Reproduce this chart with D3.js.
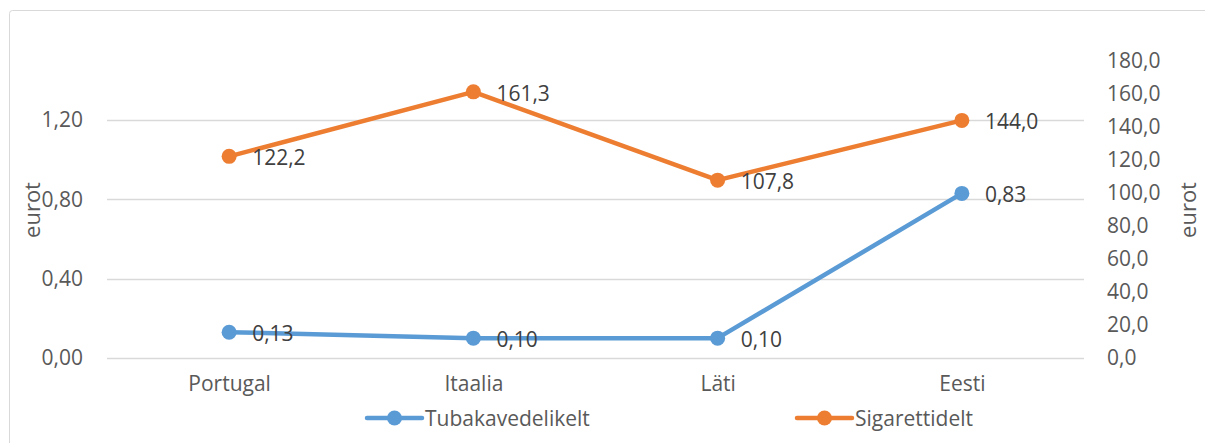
<!DOCTYPE html>
<html><head><meta charset="utf-8">
<script src="https://cdn.jsdelivr.net/npm/d3@7"></script>
<style>body{margin:0;background:#fff}svg{display:block}text{font-family:"Open Sans",sans-serif}</style>
</head><body><svg id="c" width="1205" height="443"></svg>
<script>
const categories = ["Portugal", "Itaalia", "Läti", "Eesti"];
const tubakas = [0.13, 0.10, 0.10, 0.83];
const sigaretid = [122.2, 161.3, 107.8, 144.0];
const leftTicks = [0, 0.4, 0.8, 1.2];
const rightTicks = [0, 20, 40, 60, 80, 100, 120, 140, 160, 180];
const seriesNames = ["Tubakavedelikelt", "Sigarettidelt"];

const svg = d3.select("#c");
const fs = 21;
svg.append("rect").attr("x", 9.5).attr("y", 10.5).attr("width", 1220).attr("height", 460)
  .attr("fill", "#fff").attr("stroke", "#d9d9d9").attr("stroke-width", 1).attr("rx", 3);

const x = d3.scalePoint().domain(categories).range([107, 1084]).padding(0.5);
const yL = d3.scaleLinear().domain([0, 1.5]).range([358, 60.5]);
const yR = d3.scaleLinear().domain([0, 180]).range([358, 61]);
const fmtL = v => d3.format(".2f")(v).replace(".", ",");
const fmtR = v => d3.format(".1f")(v).replace(".", ",");

// gridlines
svg.append("g").selectAll("line").data(leftTicks).join("line")
  .attr("x1", 107).attr("x2", 1084)
  .attr("y1", d => Math.round(yL(d)) + 0.5).attr("y2", d => Math.round(yL(d)) + 0.5)
  .attr("stroke", "#d9d9d9").attr("stroke-width", 1.3);

// left axis
const axL = svg.append("g").attr("transform", "translate(93,0)")
  .call(d3.axisLeft(yL).tickValues(leftTicks).tickFormat(fmtL).tickSize(0).tickPadding(10));
axL.select(".domain").remove();
axL.selectAll("text").attr("font-size", fs).attr("fill", "#595959").attr("font-family", "Open Sans");

// right axis
const axR = svg.append("g").attr("transform", "translate(1097,0)")
  .call(d3.axisRight(yR).tickValues(rightTicks).tickFormat(fmtR).tickSize(0).tickPadding(10));
axR.select(".domain").remove();
axR.selectAll("text").attr("font-size", fs).attr("fill", "#595959").attr("font-family", "Open Sans");

// x axis
const axX = svg.append("g").attr("transform", "translate(0,376)")
  .call(d3.axisBottom(x).tickSize(0).tickPadding(0));
axX.select(".domain").remove();
axX.selectAll("text").attr("font-size", fs).attr("fill", "#595959").attr("font-family", "Open Sans");

// axis titles
svg.append("text").attr("transform", "translate(31,210) rotate(-90)")
  .attr("text-anchor", "middle").attr("dominant-baseline", "central")
  .attr("font-size", fs + 1).attr("fill", "#595959").text("eurot");
svg.append("text").attr("transform", "translate(1187,210) rotate(-90)")
  .attr("text-anchor", "middle").attr("dominant-baseline", "central")
  .attr("font-size", fs + 1).attr("fill", "#595959").text("eurot");

const colors = ["#5B9BD5", "#ED7D31"];
function drawSeries(vals, y, color, fmt) {
  const g = svg.append("g");
  g.append("path").datum(vals)
    .attr("d", d3.line().x((d, i) => x(categories[i])).y(d => y(d)))
    .attr("fill", "none").attr("stroke", color).attr("stroke-width", 4.5).attr("stroke-linejoin", "round").attr("stroke-linecap", "round");
  g.selectAll("circle").data(vals).join("circle")
    .attr("cx", (d, i) => x(categories[i])).attr("cy", d => y(d)).attr("r", 7.5).attr("fill", color);
  g.selectAll("text").data(vals).join("text")
    .attr("x", (d, i) => x(categories[i]) + 23).attr("y", d => y(d) + 1)
    .attr("dominant-baseline", "central")
    .attr("font-size", fs).attr("fill", "#404040").text(d => fmt(d));
}
drawSeries(sigaretid, yR, colors[1], fmtR);
drawSeries(tubakas, yL, colors[0], fmtL);

// legend
const legendX = [367, 797];
seriesNames.forEach((name, i) => {
  const g = svg.append("g").attr("transform", `translate(${legendX[i]},418)`);
  g.append("line").attr("x1", 0).attr("x2", 55).attr("y1", 0).attr("y2", 0)
    .attr("stroke", colors[i]).attr("stroke-width", 4.5).attr("stroke-linecap", "round");
  g.append("circle").attr("cx", 27.5).attr("cy", 0).attr("r", 7.5).attr("fill", colors[i]);
  g.append("text").attr("x", 58).attr("y", 0).attr("dominant-baseline", "central")
    .attr("font-size", fs).attr("fill", "#595959").text(name);
});
</script></body></html>
